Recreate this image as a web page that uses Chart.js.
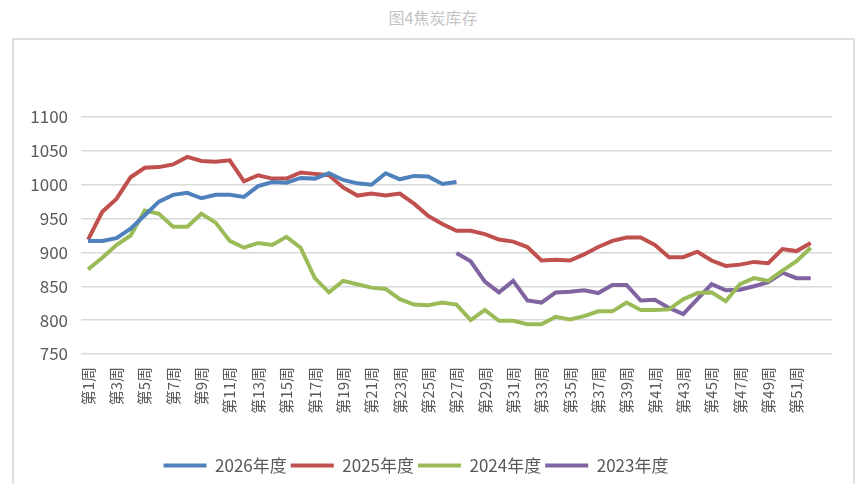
<!DOCTYPE html>
<html>
<head>
<meta charset="utf-8">
<script src="https://cdn.jsdelivr.net/npm/chart.js@4"></script>
<style>
  body { margin: 0; background: #fff; }
  #wrap { position: relative; width: 864px; height: 484px; overflow: hidden; }
  #title {
    position: absolute; left: 0; top: 5px; width: 866px; text-align: center;
    font: 16px "Noto Sans CJK SC", sans-serif; color: #c4c4c4;
  }
  #box {
    position: absolute; left: 12px; top: 38px; width: 843px; height: 460px;
    border: 2px solid #e0e0e0; box-sizing: border-box;
  }
  #chartCanvas { position: absolute; left: 0; top: 0; }
</style>
</head>
<body>
<div id="wrap">
  <div id="title">图4焦炭库存</div>
  <div id="box"></div>
  <canvas id="chartCanvas" width="864" height="484"></canvas>
</div>
<script>
// Week categories (53rd slot is blank in the source chart)
const weeks = [];
for (let i = 1; i <= 52; i++) weeks.push("第" + i + "周");
weeks.push("");

const seriesNames = ["2026年度", "2025年度", "2024年度", "2023年度"];

// Coke inventory by week
const stock2026 = [917, 917, 921, 935, 955, 975, 985, 988, 980, 985,
  985, 982, 998, 1004, 1003, 1010, 1009, 1017, 1007, 1002,
  1000, 1017, 1008, 1013, 1012, 1001, 1004];

const stock2025 = [919, 960, 979, 1011, 1025, 1026, 1030, 1041, 1035, 1034,
  1036, 1005, 1014, 1009, 1009, 1018, 1016, 1014, 996, 984,
  987, 984, 987, 972, 954, 942, 932, 932, 927, 919,
  916, 908, 888, 889, 888, 897, 908, 917, 922, 922,
  911, 893, 893, 901, 888, 880, 882, 886, 884, 905, 902, 914];

const stock2024 = [875, 892, 911, 925, 962, 957, 938, 938, 957, 944,
  917, 907, 914, 911, 923, 907, 862, 841, 858, 853,
  848, 846, 831, 823, 822, 826, 823, 800, 815, 799,
  799, 794, 794, 805, 801, 806, 813, 813, 826, 815,
  815, 816, 831, 840, 841, 828, 853, 862, 858, 873, 887, 907];

const stock2023 = [null, null, null, null, null, null, null, null, null, null,
  null, null, null, null, null, null, null, null, null, null,
  null, null, null, null, null, null, 899, 887, 857, 841,
  858, 829, 826, 841, 842, 844, 840, 852, 852, 829,
  830, 818, 809, 831, 853, 844, 845, 850, 856, 870, 862, 862];

// y axis range
const yMin = 750;
const yMax = 1100;
const yStep = 50;

const colors = ["#4f81bd", "#c0504d", "#9bbb59", "#8064a2"];
const allSeries = [stock2026, stock2025, stock2024, stock2023];

const datasets = allSeries.map((values, i) => ({
  label: seriesNames[i],
  data: values,
  borderColor: colors[i],
  backgroundColor: colors[i],
  borderWidth: 4,
  pointRadius: 0,
  tension: 0,
  spanGaps: false,
}));

const ctx = document.getElementById("chartCanvas").getContext("2d");

new Chart(ctx, {
  type: "line",
  data: { labels: weeks, datasets: datasets },
  options: {
    responsive: false,
    animation: false,
    layout: { padding: { top: 117, right: 32, left: 0, bottom: 0 } },
    plugins: {
      title: { display: false },
      tooltip: { enabled: false },
      legend: {
        position: "bottom",
        labels: {
          boxWidth: 43,
          boxHeight: 4,
          padding: 4,
          color: "#595959",
          font: { family: "'Noto Sans CJK SC', sans-serif", size: 17 },
          // flat legend swatch, no outline
          generateLabels: (chart) => {
            const items = Chart.defaults.plugins.legend.labels.generateLabels(chart);
            items.forEach((item) => { item.lineWidth = 0; });
            return items;
          },
        },
      },
    },
    scales: {
      x: {
        offset: true,
        grid: { display: false, drawTicks: false },
        border: { display: false },
        afterFit: (scale) => { scale.height = 99; },
        ticks: {
          autoSkip: false,
          minRotation: 90,
          maxRotation: 90,
          padding: 13,
          color: "#595959",
          font: { family: "'Noto Sans CJK SC', sans-serif", size: 15 },
          callback: function (value, index) {
            return index % 2 === 0 ? this.getLabelForValue(value) : "";
          },
        },
      },
      y: {
        min: yMin,
        max: yMax,
        grid: { color: "#d9d9d9", lineWidth: 1.5, drawTicks: false },
        border: { display: false },
        afterFit: (scale) => { scale.width = 81; },
        ticks: {
          stepSize: yStep,
          padding: 13,
          color: "#595959",
          font: { family: "'Noto Sans CJK SC', sans-serif", size: 17 },
          callback: (value) => String(value),
        },
      },
    },
  },
});
</script>
</body>
</html>
